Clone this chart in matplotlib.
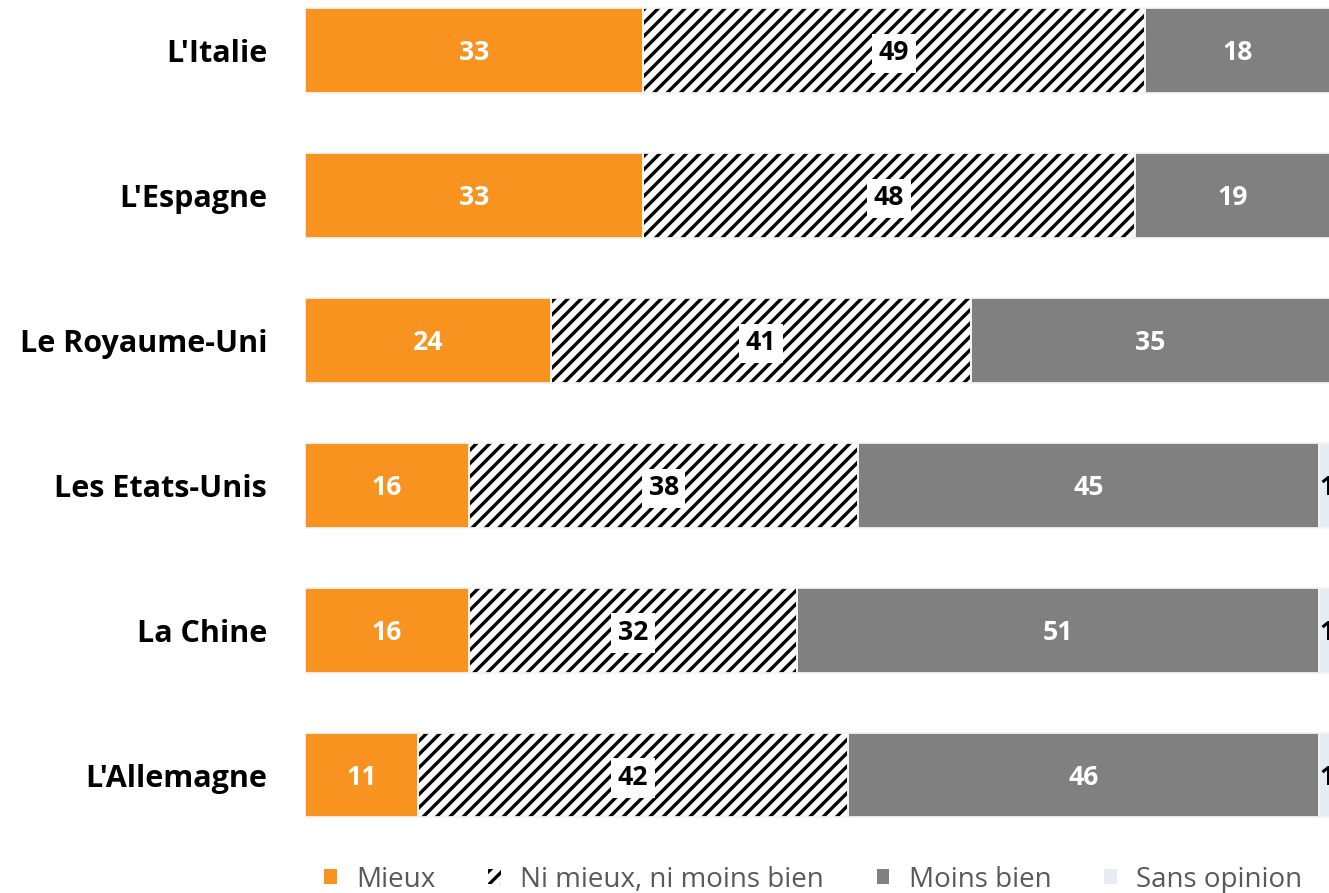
import matplotlib
matplotlib.use("Agg")
import matplotlib.pyplot as plt
from matplotlib.patches import Patch
import numpy as np

categories = ["L'Italie", "L'Espagne", "Le Royaume-Uni", "Les Etats-Unis", "La Chine", "L'Allemagne"]
mieux = [33, 33, 24, 16, 16, 11]
ni_ni = [49, 48, 41, 38, 32, 42]
moins_bien = [18, 19, 35, 45, 51, 46]
sans_opinion = [0, 0, 0, 1, 1, 1]
series_names = ["Mieux", "Ni mieux, ni moins bien", "Moins bien", "Sans opinion"]

ORANGE = "#F7931E"
GREY = "#808080"
LIGHT = "#E6ECF4"

plt.rcParams['hatch.linewidth'] = 3.0
plt.rcParams['font.family'] = ['Open Sans', 'DejaVu Sans']

DPI = 80
fig = plt.figure(figsize=(1329 / DPI, 893 / DPI), dpi=DPI)
ax = fig.add_axes([305 / 1329, 61 / 893, 1 - 305 / 1329 + 0.0005, 832 / 893])

y = np.arange(len(categories))
h = 0.585
m = np.array(mieux)
n = np.array(ni_ni)
mb = np.array(moins_bien)
so = np.array(sans_opinion)

ax.barh(y, m, height=h, color=ORANGE, linewidth=0)
ax.barh(y, n, left=m, height=h, color="white", edgecolor="black", hatch="//", linewidth=0)
ax.barh(y, mb, left=m + n, height=h, color=GREY, linewidth=0)
ax.barh(y, so, left=m + n + mb, height=h, color=LIGHT, linewidth=0)
# light separators / outlines
for left, w in [(0 * m, m), (m, n), (m + n, mb), (m + n + mb, so)]:
    ax.barh(y, w, left=left, height=h, fill=False, edgecolor="#F4F4F4", linewidth=1.6)

fs_val = 24
for i in range(len(categories)):
    ax.text(m[i] / 2, y[i], str(m[i]), ha="center", va="center_baseline", color="white",
            fontsize=fs_val, fontweight="bold")
    ax.text(m[i] + n[i] / 2, y[i], str(n[i]), ha="center", va="center_baseline", color="black",
            fontsize=fs_val, fontweight="bold",
            bbox=dict(boxstyle="square,pad=0.25", facecolor="white", edgecolor="none"))
    ax.text(m[i] + n[i] + mb[i] / 2, y[i], str(mb[i]), ha="center", va="center_baseline", color="white",
            fontsize=fs_val, fontweight="bold")
    if so[i] > 0:
        ax.text(m[i] + n[i] + mb[i] + so[i] / 2 + 0.2, y[i], str(so[i]), ha="center",
                va="center_baseline", color="black", fontsize=fs_val, fontweight="bold", clip_on=False)

ax.set_xlim(0, 100)
ax.set_ylim(5 + 57 / 145, -50.5 / 145)
ax.set_yticks(y)
ax.set_yticklabels(categories, fontsize=27.5, fontweight="bold")
ax.tick_params(axis="y", length=0, pad=34)
ax.set_xticks([])
for s in ax.spines.values():
    s.set_visible(False)

handles = [
    Patch(facecolor=ORANGE, edgecolor="none"),
    Patch(facecolor="white", edgecolor="black", hatch="//", linewidth=0),
    Patch(facecolor=GREY, edgecolor="none"),
    Patch(facecolor=LIGHT, edgecolor="none"),
]
fig.legend(handles, series_names, loc="center", bbox_to_anchor=(0.612, 0.015), ncol=4,
           frameon=False, fontsize=25, labelcolor="#595959", handlelength=0.45, handleheight=0.45,
           handletextpad=0.7, columnspacing=1.9)

fig.savefig("out.png", dpi=DPI)
